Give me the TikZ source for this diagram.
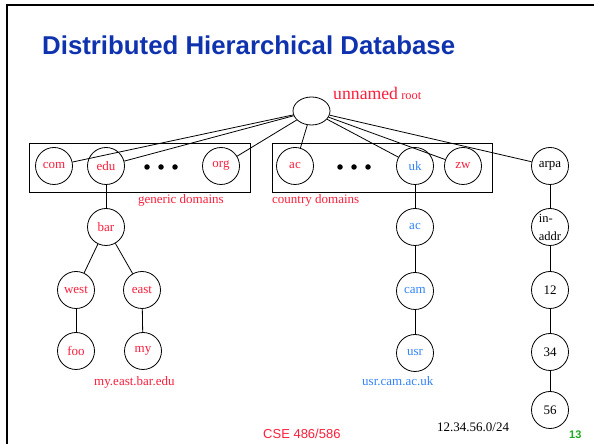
\documentclass[tikz,border=0pt]{standalone}
\usepackage{fontspec}
\usetikzlibrary{shapes.geometric}
\setmainfont{Liberation Serif}
\setsansfont{Liberation Sans}
\definecolor{dnsred}{RGB}{255,30,60}
\definecolor{dnsblue}{RGB}{50,130,255}
\definecolor{titleblue}{RGB}{15,50,175}
\definecolor{pagegreen}{RGB}{30,170,30}
\begin{document}
\begin{tikzpicture}[x=1pt,y=1pt,
    dom/.style={draw,circle,minimum size=37pt,inner sep=0pt,line width=0.8pt,text=dnsred,font=\fontsize{13}{15}\selectfont},
    ukdom/.style={dom,text=dnsblue},
    arpadom/.style={dom,text=black},
    zonebox/.style={draw,line width=0.8pt},
    dot/.style={circle,fill=black,minimum size=5.5pt,inner sep=0pt},
    lbl/.style={anchor=base west,inner sep=0pt,font=\fontsize{13}{15}\selectfont},
    link/.style={line width=0.8pt}]
 	  \useasboundingbox (0,0) rectangle (594,444);
 	  \draw [line width=2.5pt] (7,0) -- (7,439) -- (594,439);
 	  \node (title) [anchor=base west,inner sep=0pt,text=titleblue,font=\sffamily\bfseries\fontsize{25.8}{30}\selectfont] at (42,389) {Distributed Hierarchical Database};
 	  \node (root) [draw,ellipse,minimum width=37pt,minimum height=28pt,inner sep=0pt,line width=0.8pt] at (311.5,333) {};
 	  \node (rootlbl) [lbl,text=dnsred] at (333,344) {{\fontsize{17.7}{20}\selectfont unnamed} {\fontsize{12.4}{14}\selectfont root}};
 	  \draw [zonebox] (29,252) rectangle (250,301);
 	  \draw [zonebox] (272,252) rectangle (492,301);
 	  \node (com) [dom] at (54,278) {com};
 	  \node (edu) [dom] at (106,278) {edu};
 	  \node (org) [dom] at (221,278) {org};
 	  \node (ac) [dom] at (295,278) {ac};
 	  \node (uk) [ukdom] at (415,278) {uk};
 	  \node (zw) [dom] at (463,278) {zw};
 	  \node (arpa) [arpadom] at (550,278) {arpa};
 	  \foreach \i/\x in {1/147,2/161,3/175} \node (gdot\i) [dot] at (\x,277) {};
 	  \foreach \i/\x in {1/340,2/354,3/368} \node (cdot\i) [dot] at (\x,277) {};
 	  \node (generic) [lbl,text=dnsred] at (138,240) {generic domains};
 	  \node (country) [lbl,text=dnsred] at (272,240) {country domains};
 	  \node (bar) [dom] at (106,217) {bar};
 	  \node (west) [dom] at (76,154) {west};
 	  \node (east) [dom] at (142,154) {east};
 	  \node (foo) [dom] at (76,93) {foo};
 	  \node (my) [dom] at (143,93) {my};
 	  \node (ukac) [ukdom] at (415,217) {ac};
 	  \node (cam) [ukdom] at (415,153) {cam};
 	  \node (usr) [ukdom] at (415,91) {usr};
 	  \node (inaddr) [arpadom,align=left,font=\fontsize{12.5}{18}\selectfont] at (550,217) {in-\\addr};
 	  \node (n12) [arpadom] at (550,154) {12};
 	  \node (n34) [arpadom] at (550,92) {34};
 	  \node (n56) [arpadom] at (550,34) {56};
 	  \node (myname) [lbl,text=dnsred] at (94,58) {my.east.bar.edu};
 	  \node (usrname) [lbl,text=dnsblue] at (362,58) {usr.cam.ac.uk};
 	  \node (prefix) [lbl] at (437,12) {12.34.56.0/24};
 	  \node (course) [anchor=base west,inner sep=0pt,text=dnsred,font=\sffamily\fontsize{13}{15}\selectfont] at (263,5) {CSE 486/586};
 	  \node (page) [anchor=base west,inner sep=0pt,text=pagegreen,font=\sffamily\bfseries\fontsize{11}{13}\selectfont] at (569,5) {13};
 	  \foreach \d in {com,edu,org,ac,uk,zw,arpa} \draw [link] (root) -- (\d);
 	  \draw [link] (edu) -- (bar);
 	  \draw [link] (bar) -- (west);
 	  \draw [link] (bar) -- (east);
 	  \draw [link] (west) -- (foo);
 	  \draw [link] (east) -- (my);
 	  \draw [link] (uk) -- (ukac) -- (cam) -- (usr);
 	  \draw [link] (arpa) -- (inaddr) -- (n12) -- (n34) -- (n56);
 	\end{tikzpicture}
\end{document}
